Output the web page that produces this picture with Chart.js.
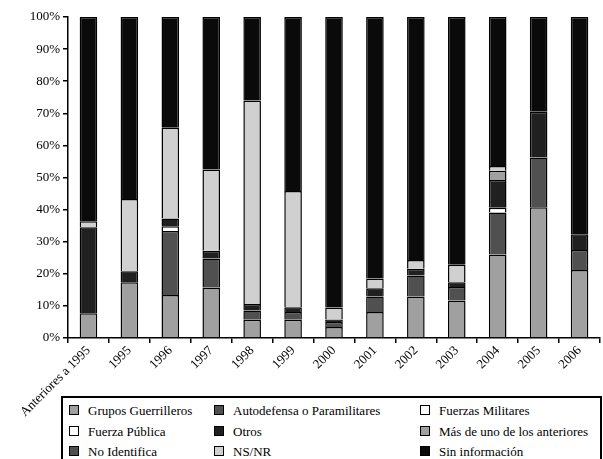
<!DOCTYPE html>
<html>
  <head>
    <title>Responsables por año</title>
    <script src="https://cdn.jsdelivr.net/npm/chart.js"></script>
    <style>
      body { margin: 0; background: #fff; }
      .wrap { position: relative; width: 603px; height: 459px; }
      #leyenda {
        position: absolute; left: 61px; top: 396px; width: 537px; height: 70px;
        border: 2px solid #000; background: #fff;
        font-family: "Liberation Serif", "Times New Roman", "DejaVu Serif", serif; font-size: 13px; color: #000;
      }
      .item { position: absolute; white-space: nowrap; }
      .item span.sw {
        display: inline-block; width: 8px; height: 8px; border: 1px solid #000;
        margin-right: 9px; vertical-align: 0px;
      }
    </style>
  </head>
  <body>
    <div class="wrap">
      <canvas id="myChart" width="603" height="459"></canvas>
      <div id="leyenda"></div>
    </div>

    <script>
      const categorias = ["Anteriores a 1995", "1995", "1996", "1997", "1998", "1999", "2000", "2001", "2002", "2003", "2004", "2005", "2006"];

      const guerrilleros = [7.7, 17.4, 13.4, 15.7, 5.7, 5.7, 3.4, 8.1, 12.9, 11.7, 26.0, 40.7, 21.2];
      const autodefensa = [null, null, 19.9, 9.1, 2.9, 2.4, 1.6, 4.8, 6.6, 4.2, 13.1, 15.5, 6.2];
      const fuerzasMilitares = [null, null, 1.5, null, null, null, null, null, null, null, 1.5, null, null];
      const fuerzaPublica = [null, null, null, null, null, null, null, null, null, null, null, null, null];
      const otros = [26.8, 3.4, 2.4, 2.4, 2.0, 1.5, 0.8, 2.6, 2.1, 1.5, 8.6, 14.3, 4.9];
      const masDeUno = [null, null, null, null, null, null, null, null, null, null, 2.9, null, null];
      const noIdentifica = [null, null, null, null, null, null, null, null, null, null, null, null, null];
      const nsnr = [1.9, 22.5, 28.3, 25.3, 63.4, 36.2, 3.7, 3.0, 2.7, 5.4, 1.5, null, null];
      const sinInfo = [63.6, 56.7, 34.5, 47.5, 26.0, 54.2, 90.5, 81.5, 75.7, 77.2, 46.4, 29.5, 67.7];

      const series = [
        { label: "Grupos Guerrilleros", data: guerrilleros, color: "#a0a0a0" },
        { label: "Autodefensa o Paramilitares", data: autodefensa, color: "#505050" },
        { label: "Fuerzas Militares", data: fuerzasMilitares, color: "#ffffff" },
        { label: "Fuerza Pública", data: fuerzaPublica, color: "#ffffff" },
        { label: "Otros", data: otros, color: "#202020" },
        { label: "Más de uno de los anteriores", data: masDeUno, color: "#a0a0a0" },
        { label: "No Identifica", data: noIdentifica, color: "#505050" },
        { label: "NS/NR", data: nsnr, color: "#d0d0d0" },
        { label: "Sin información", data: sinInfo, color: "#0a0a0a" },
      ];

      const fuente = { family: "'Liberation Serif', 'Times New Roman', 'DejaVu Serif', serif", size: 13 };

      new Chart(document.getElementById("myChart"), {
        type: "bar",
        data: {
          labels: categorias,
          datasets: series.map((s) => ({
            label: s.label,
            data: s.data,
            backgroundColor: s.color,
            borderColor: "#000",
            borderWidth: 1.5,
            barPercentage: 0.43,
            categoryPercentage: 1,
          })),
        },
        options: {
          responsive: false,
          animation: false,
          layout: { padding: { top: 17, right: 3 } },
          plugins: { legend: { display: false }, tooltip: { enabled: false } },
          scales: {
            x: {
              stacked: true,
              afterFit: (s) => { s.height = 121; },
              grid: { offset: true, drawOnChartArea: false, color: "#000", tickLength: 5, lineWidth: 1.5 },
              border: { color: "#000", width: 1.5 },
              ticks: { color: "#000", font: fuente, minRotation: 45, maxRotation: 45, autoSkip: false, padding: 0 },
            },
            y: {
              stacked: true,
              min: 0,
              max: 100,
              afterFit: (s) => { s.width = 68; },
              grid: { drawOnChartArea: false, color: "#000", tickLength: 5, lineWidth: 1.5 },
              border: { color: "#000", width: 1.5 },
              ticks: { color: "#000", font: fuente, stepSize: 10, padding: 3, callback: (v) => v + "%" },
            },
          },
        },
      });

      // leyenda en 3 columnas, como en el original
      const colX = [6, 151, 357];
      const filaY = [5, 26, 46];
      const leyenda = document.getElementById("leyenda");
      series.forEach((s, i) => {
        const d = document.createElement("div");
        d.className = "item";
        d.style.left = colX[i % 3] + "px";
        d.style.top = filaY[Math.floor(i / 3)] + "px";
        d.innerHTML = '<span class="sw" style="background:' + s.color + '"></span>' + s.label;
        leyenda.appendChild(d);
      });
    </script>
  </body>
</html>
